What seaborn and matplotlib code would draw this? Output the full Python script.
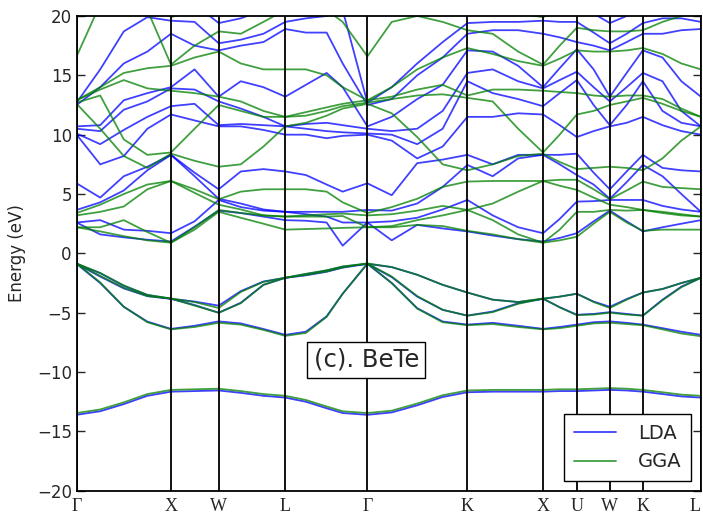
import numpy as np
import pandas as pd
import matplotlib
matplotlib.use("Agg")
import matplotlib.pyplot as plt
from matplotlib.lines import Line2D
import seaborn as sns

# k-path positions (arbitrary path length units) and labels
kpts = [0, 0.25, 0.5, 0.75, 1.0, 1.25, 1.506, 1.74, 1.98, 2.212, 2.43, 2.65, 2.82, 3.082,
        3.34, 3.61, 3.88, 4.142, 4.41, 4.68, 4.944, 5.12, 5.302, 5.48, 5.652, 5.83, 6.002,
        6.21, 6.41, 6.617]
tick_pos = [0, 1.0, 1.506, 2.212, 3.082, 4.142, 4.944, 5.302, 5.652, 6.002, 6.617]
tick_labels = ["Γ", "X", "W", "L", "Γ", "K", "X", "U", "W", "K", "L"]

# ---- LDA valence bands ----
lda_v0 = [-13.6, -13.3, -12.7, -12.0, -11.65, -11.6, -11.55, -11.75, -12.0, -12.15, -12.5, -13.05, -13.45, -13.6, -13.4, -12.8, -12.1, -11.7, -11.65, -11.65, -11.65, -11.6, -11.6, -11.55, -11.5, -11.55, -11.65, -11.85, -12.05, -12.15]
lda_v1 = [-0.88, -2.5, -4.5, -5.75, -6.36, -6.1, -5.73, -5.9, -6.37, -6.86, -6.6, -5.3, -3.4, -0.88, -2.5, -4.62, -5.74, -6.0, -5.85, -6.1, -6.36, -6.2, -6.0, -5.8, -5.73, -5.85, -6.0, -6.3, -6.6, -6.86]
lda_v2 = [-0.88, -1.95, -2.95, -3.6, -3.83, -4.35, -5.0, -4.16, -2.65, -2.06, -1.85, -1.55, -1.2, -0.88, -2.0, -3.64, -4.76, -5.24, -4.9, -4.2, -3.83, -4.53, -5.17, -5.1, -4.95, -5.1, -5.24, -3.9, -2.8, -2.06]
lda_v3 = [-0.88, -1.67, -2.74, -3.5, -3.83, -4.06, -4.4, -3.18, -2.37, -2.06, -1.75, -1.45, -1.12, -0.88, -1.16, -1.8, -2.65, -3.3, -3.9, -4.1, -3.83, -3.64, -3.4, -4.06, -4.5, -3.85, -3.3, -3.0, -2.5, -2.06]

# ---- LDA conduction bands ----
lda_c0 = [2.6, 1.6, 1.35, 1.15, 1.0, 2.25, 3.6, 3.4, 3.1, 2.8, 2.75, 2.6, 0.65, 2.6, 1.1, 2.4, 2.1, 1.85, 1.5, 1.2, 1.0, 1.3, 1.7, 2.7, 3.6, 2.7, 1.85, 2.2, 2.5, 2.8]
lda_c1 = [2.6, 2.8, 2.0, 1.9, 1.7, 2.7, 4.5, 3.9, 3.6, 3.5, 3.3, 3.1, 2.6, 2.6, 2.7, 3.0, 3.7, 4.5, 3.2, 2.2, 1.7, 2.9, 4.36, 4.4, 4.5, 4.5, 4.5, 4.0, 3.7, 3.5]
lda_c2 = [3.66, 4.3, 5.3, 7.0, 8.3, 6.5, 4.6, 4.2, 3.7, 3.5, 3.5, 3.5, 3.5, 3.66, 3.6, 4.2, 5.6, 7.45, 6.5, 8.0, 8.3, 7.5, 6.6, 5.8, 4.6, 6.0, 7.45, 6.5, 5.0, 3.5]
lda_c3 = [5.9, 4.7, 6.5, 7.3, 8.3, 6.8, 5.4, 6.9, 7.1, 6.9, 6.6, 5.8, 5.2, 5.9, 4.9, 7.6, 7.9, 8.3, 7.5, 8.3, 8.3, 8.3, 8.4, 6.8, 5.4, 6.9, 8.3, 7.2, 7.0, 6.9]
lda_c4 = [10.0, 7.5, 8.2, 10.5, 11.7, 11.2, 10.7, 10.7, 10.4, 10.0, 10.0, 9.7, 9.9, 10.0, 9.5, 8.0, 9.0, 11.5, 11.5, 11.8, 11.7, 10.8, 9.8, 10.3, 10.7, 11.0, 11.5, 10.8, 10.3, 10.0]
lda_c5 = [10.1, 9.2, 10.4, 11.5, 12.4, 12.6, 10.8, 10.9, 10.8, 10.7, 10.5, 10.3, 10.2, 10.1, 10.0, 9.2, 10.5, 14.5, 13.5, 13.0, 12.4, 13.5, 14.6, 12.5, 10.8, 12.5, 14.5, 12.0, 11.0, 10.7]
lda_c6 = [10.5, 10.3, 12.1, 12.8, 13.9, 13.8, 12.8, 12.2, 11.5, 10.7, 10.9, 11.0, 10.8, 10.5, 10.3, 10.5, 12.0, 15.2, 15.5, 14.5, 13.9, 14.6, 15.3, 14.0, 12.8, 14.0, 15.2, 14.5, 12.0, 10.7]
lda_c7 = [10.7, 10.8, 12.9, 13.5, 14.0, 15.5, 13.2, 14.5, 14.0, 13.2, 14.2, 15.2, 14.0, 10.7, 11.5, 13.0, 14.2, 17.1, 17.0, 15.8, 14.0, 15.6, 17.2, 15.5, 13.2, 15.2, 17.1, 16.5, 14.5, 13.2]
lda_c8 = [12.5, 14.0, 16.0, 17.0, 18.5, 17.5, 17.1, 17.5, 17.8, 18.9, 18.6, 18.6, 16.0, 12.5, 13.0, 15.0, 16.5, 18.5, 18.8, 18.8, 18.5, 18.2, 17.8, 17.5, 17.1, 17.8, 18.5, 18.5, 18.8, 18.9]
lda_c9 = [12.7, 15.5, 18.7, 19.9, 19.6, 19.5, 17.7, 18.0, 18.5, 19.5, 19.8, 20.0, 20.5, 12.7, 14.0, 16.0, 17.8, 19.4, 19.5, 19.5, 19.6, 19.5, 19.5, 18.6, 17.7, 18.5, 19.4, 19.8, 19.8, 19.5]
lda_c10 = [21, 21, 21, 21, 20.5, 21, 19.4, 19.8, 20.5, 21, 21, 21.5, 22, 21, 21, 21, 20.5, 20.5, 20.5, 20.5, 20.5, 20.8, 21, 20.2, 19.4, 20.0, 20.5, 21, 21, 21]

# ---- GGA valence bands ----
gga_v0 = [-13.45, -13.15, -12.55, -11.85, -11.5, -11.45, -11.4, -11.6, -11.85, -12.0, -12.35, -12.9, -13.3, -13.45, -13.25, -12.65, -11.95, -11.55, -11.5, -11.5, -11.5, -11.45, -11.45, -11.4, -11.35, -11.4, -11.5, -11.7, -11.9, -12.0]
gga_v1 = [-0.85, -2.45, -4.5, -5.8, -6.4, -6.2, -5.85, -6.0, -6.45, -6.95, -6.7, -5.35, -3.4, -0.85, -2.5, -4.65, -5.8, -6.05, -5.95, -6.2, -6.4, -6.3, -6.1, -5.9, -5.85, -5.95, -6.05, -6.4, -6.75, -6.98]
gga_v2 = [-0.85, -1.9, -2.9, -3.6, -3.8, -4.4, -5.0, -4.2, -2.65, -2.05, -1.82, -1.52, -1.18, -0.85, -1.95, -3.6, -4.75, -5.25, -4.95, -4.25, -3.8, -4.55, -5.2, -5.15, -5.0, -5.15, -5.25, -3.95, -2.85, -2.05]
gga_v3 = [-0.85, -1.65, -2.7, -3.5, -3.8, -4.1, -4.6, -3.25, -2.4, -2.05, -1.72, -1.42, -1.1, -0.85, -1.15, -1.8, -2.65, -3.3, -3.9, -4.1, -3.8, -3.65, -3.4, -4.1, -4.6, -3.9, -3.3, -3.0, -2.5, -2.05]

# ---- GGA conduction bands ----
gga_c0 = [2.2, 1.85, 1.45, 1.1, 0.9, 2.0, 3.5, 3.0, 2.5, 2.0, 2.05, 2.1, 2.15, 2.2, 2.2, 2.4, 2.3, 1.9, 1.6, 1.2, 0.9, 1.1, 1.4, 2.5, 3.5, 2.6, 1.9, 2.0, 2.0, 2.0]
gga_c1 = [2.2, 2.2, 2.8, 1.8, 0.9, 2.2, 3.66, 3.4, 3.2, 3.1, 3.1, 3.1, 3.15, 2.2, 2.3, 2.8, 3.2, 3.66, 2.8, 1.6, 0.9, 2.0, 3.5, 3.5, 3.66, 3.6, 3.66, 3.4, 3.2, 3.1]
gga_c2 = [3.2, 3.5, 3.95, 5.4, 6.1, 5.1, 4.1, 3.7, 3.2, 3.1, 3.2, 3.3, 3.35, 3.2, 3.3, 3.6, 4.0, 3.66, 4.2, 5.2, 6.1, 5.7, 5.35, 4.7, 4.1, 3.9, 3.66, 3.5, 3.3, 3.1]
gga_c3 = [3.4, 4.1, 5.0, 5.8, 6.1, 5.4, 4.56, 5.2, 5.4, 5.4, 5.4, 5.2, 4.3, 3.4, 3.9, 4.6, 5.6, 6.05, 6.1, 6.1, 6.1, 6.2, 6.2, 5.4, 4.56, 5.3, 6.05, 5.6, 5.5, 5.4]
gga_c4 = [12.6, 10.5, 8.2, 7.2, 8.4, 7.8, 7.3, 7.5, 9.0, 10.7, 11.0, 11.6, 12.2, 12.6, 11.8, 9.8, 7.5, 7.0, 7.5, 8.2, 8.4, 7.7, 7.1, 7.2, 7.3, 7.2, 7.0, 8.0, 9.5, 10.7]
gga_c5 = [12.7, 13.3, 9.6, 8.3, 8.5, 10.5, 12.5, 12.0, 11.5, 11.5, 11.6, 12.0, 12.4, 12.7, 13.0, 13.3, 13.4, 13.1, 12.8, 10.5, 8.5, 10.0, 11.7, 12.0, 12.5, 12.8, 13.1, 12.6, 12.0, 11.5]
gga_c6 = [12.9, 13.8, 14.6, 13.9, 13.7, 13.5, 13.2, 12.8, 12.0, 11.5, 11.9, 12.3, 12.6, 12.9, 13.2, 13.8, 14.2, 13.3, 13.8, 13.8, 13.7, 13.6, 13.5, 13.3, 13.2, 13.3, 13.3, 13.0, 12.2, 11.5]
gga_c7 = [12.9, 14.0, 15.2, 15.6, 15.8, 16.5, 17.0, 16.0, 15.5, 15.5, 15.5, 15.0, 14.0, 12.9, 14.0, 15.5, 16.5, 17.3, 16.8, 16.2, 15.8, 16.4, 17.1, 17.0, 17.0, 17.1, 17.3, 16.8, 16.0, 15.5]
gga_c8 = [16.6, 21, 21, 20.5, 15.9, 17.5, 18.7, 18.5, 19.5, 20.5, 20.5, 20.5, 19.5, 16.6, 19.5, 20.0, 19.5, 18.8, 18.5, 17.0, 15.9, 17.5, 19.0, 18.8, 18.7, 18.7, 18.8, 19.5, 20.0, 20.5]
gga_c9 = [21, 22, 22, 22, 19.9, 20.5, 20.5, 20.5, 20.5, 21, 21, 21, 21, 21, 21, 21, 20.5, 20.5, 20.5, 20.2, 19.9, 20.5, 21, 20.7, 20.5, 20.5, 20.5, 20.6, 20.8, 21]
gga_c10 = [22, 23, 23, 23, 21, 22, 21.5, 21.5, 21.5, 22, 22, 22, 22, 22, 22, 22, 22, 21.5, 21.5, 21.5, 21, 21.5, 22, 21.7, 21.5, 21.5, 21.5, 21.6, 21.8, 22]

lda_bands = [lda_v0, lda_v1, lda_v2, lda_v3, lda_c0, lda_c1, lda_c2, lda_c3, lda_c4,
             lda_c5, lda_c6, lda_c7, lda_c8, lda_c9, lda_c10]
gga_bands = [gga_v0, gga_v1, gga_v2, gga_v3, gga_c0, gga_c1, gga_c2, gga_c3, gga_c4,
             gga_c5, gga_c6, gga_c7, gga_c8, gga_c9, gga_c10]

rows = []
for method, bands in (("LDA", lda_bands), ("GGA", gga_bands)):
    for bi, band in enumerate(bands):
        for k, e in zip(kpts, band):
            rows.append({"k": k, "E": e, "band": f"{method}{bi}", "method": method})
df = pd.DataFrame(rows)

sns.set_style("ticks")
plt.rcParams["font.family"] = ["DejaVu Sans"]

fig = plt.figure(figsize=(7.03, 5.15), dpi=100)
ax = fig.add_axes([0.109, 0.047, 0.888, 0.922])

palette = {"LDA": "#0000ff", "GGA": "#008000"}
for method in ("LDA", "GGA"):
    sub = df[df["method"] == method]
    sns.lineplot(data=sub, x="k", y="E", units="band", estimator=None, sort=False,
                 color=palette[method], alpha=0.75, linewidth=1.3, ax=ax, legend=False)

for xp in tick_pos:
    ax.axvline(xp, color="black", linewidth=1.3, zorder=3)

ax.set_xlim(tick_pos[0], tick_pos[-1])
ax.set_ylim(-20, 20)
ax.set_yticks([-20, -15, -10, -5, 0, 5, 10, 15, 20])
ax.set_yticklabels(["\u221220", "\u221215", "\u221210", "\u22125", "0", "5", "10", "15", "20"])
ax.set_xticks(tick_pos)
ax.set_xticklabels(tick_labels, family="Liberation Serif", fontsize=13)
xt = ax.get_xticklabels()
xt[-1].set_horizontalalignment("right")
ax.tick_params(axis="y", direction="in", length=6, right=True, labelsize=12, width=1)
ax.tick_params(axis="x", direction="in", length=0, pad=5)
ax.set_xlabel("")
ax.set_ylabel("Energy (eV)", fontsize=12, labelpad=8)
for sp in ax.spines.values():
    sp.set_linewidth(1.3)
    sp.set_color("black")

handles = [Line2D([0], [0], color="#0000ff", alpha=0.75, linewidth=1.3),
           Line2D([0], [0], color="#008000", alpha=0.75, linewidth=1.3)]
leg = ax.legend(handles, ["LDA", "GGA"], loc="lower right", fontsize=14,
                fancybox=False, framealpha=1, edgecolor="black",
                borderaxespad=0.5, handlelength=2.2, labelspacing=0.5,
                borderpad=0.5, handletextpad=1.1)
leg.get_frame().set_linewidth(1.0)

ax.text(3.07, -8.97, "(c). BeTe", fontsize=17.5, ha="center", va="center", zorder=5,
        bbox=dict(boxstyle="square,pad=0.25", facecolor="white", edgecolor="black", linewidth=1.0))

fig.savefig("out.png", dpi=100)
